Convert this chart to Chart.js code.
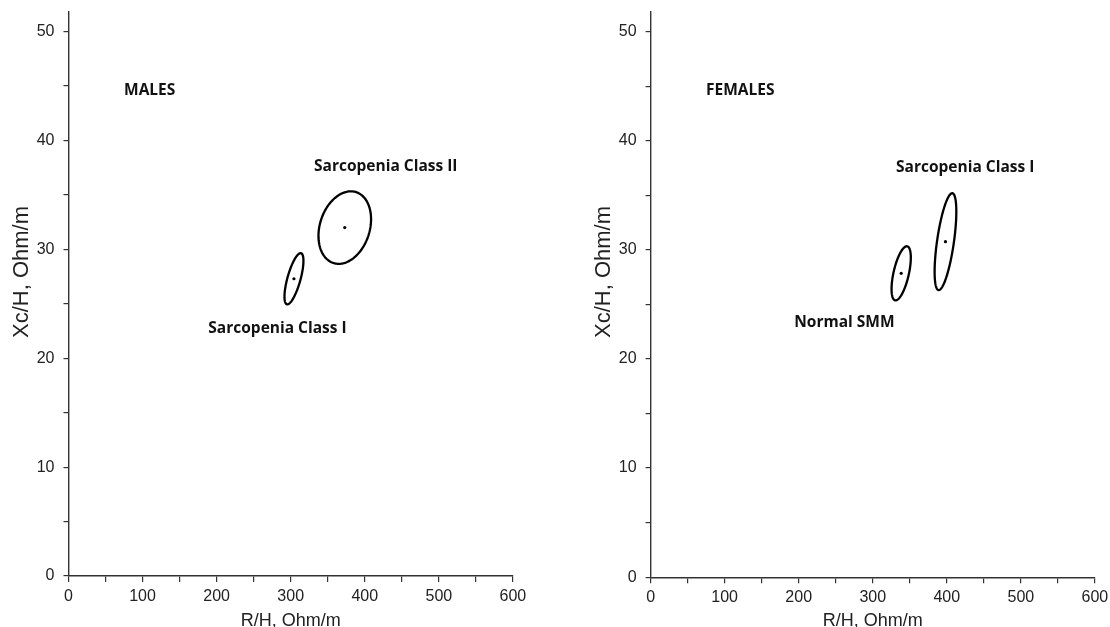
<!DOCTYPE html>
<html>
<head>
<meta charset="utf-8">
<script src="https://cdn.jsdelivr.net/npm/chart.js@4.4.1/dist/chart.umd.min.js"></script>
<style>
  html, body { margin: 0; padding: 0; background: #fff; }
  .panel { position: absolute; top: 0; width: 555px; height: 627px; }
  #left { left: 0; }
  #right { left: 555px; }
</style>
</head>
<body>
<div class="panel" id="left"><canvas id="males-chart" width="555" height="627"></canvas></div>
<div class="panel" id="right"><canvas id="females-chart" width="555" height="627"></canvas></div>
<script>
// axis ranges / ticks
const xMin = 0;
const xMax = 600;
const xStep = 50;
const xLabelEvery = 100;
const yMin = 0;
const yMax = 51.8;
const yStep = 5;
const yLabelEvery = 10;

// males: group means (dots) and 95% ellipse shape
const maleGroups = ['Sarcopenia Class I', 'Sarcopenia Class II'];
const maleMeanR = [304.4, 373.0];
const maleMeanXc = [27.3, 32.0];
const maleHalfR = [12.8, 35.5];
const maleHalfXc = [2.35, 3.33];
const maleCorr = [0.70, 0.23];

// females
const femaleGroups = ['Normal SMM', 'Sarcopenia Class I'];
const femaleMeanR = [338.4, 398.2];
const femaleMeanXc = [27.85, 30.75];
const femaleHalfR = [13.0, 14.65];
const femaleHalfXc = [2.48, 4.44];
const femaleCorr = [0.58, 0.62];

const AXIS_COLOR = '#333';
const TEXT_COLOR = '#222';

// draws the confidence ellipses through the chart scales
const ellipsePlugin = {
  id: 'ellipses',
  afterDatasetsDraw(chart, args, opts) {
    const { ctx, scales: { x, y } } = chart;
    ctx.save();
    ctx.strokeStyle = '#000';
    ctx.lineWidth = 2.3;
    opts.items.forEach((e) => {
      const phi = Math.acos(e.r);
      ctx.beginPath();
      for (let i = 0; i <= 180; i++) {
        const t = (i / 180) * Math.PI * 2;
        const px = x.getPixelForValue(e.cx + e.hx * Math.cos(t));
        const py = y.getPixelForValue(e.cy + e.hy * Math.cos(t - phi));
        if (i === 0) ctx.moveTo(px, py);
        else ctx.lineTo(px, py);
      }
      ctx.closePath();
      ctx.stroke();
    });
    ctx.restore();
  },
};

// axis titles + group labels
const textPlugin = {
  id: 'texts',
  afterDraw(chart, args, opts) {
    const { ctx, chartArea, scales: { x, y } } = chart;
    ctx.save();
    ctx.fillStyle = TEXT_COLOR;

    ctx.font = '18px "Liberation Sans", Arial, sans-serif';
    ctx.textAlign = 'center';
    ctx.textBaseline = 'alphabetic';
    ctx.fillText('R/H, Ohm/m', (chartArea.left + chartArea.right) / 2, 626);

    ctx.translate(chartArea.left - 47, 272);
    ctx.rotate(-Math.PI / 2);
    ctx.font = '22px "Liberation Sans", Arial, sans-serif';
    ctx.textBaseline = 'middle';
    ctx.fillText('Xc/H, Ohm/m', 0, 0);
    ctx.setTransform(1, 0, 0, 1, 0, 0);

    ctx.fillStyle = '#111';
    ctx.font = 'bold 15.5px "Open Sans", sans-serif';
    ctx.textAlign = 'left';
    ctx.textBaseline = 'middle';
    opts.labels.forEach((l) => {
      ctx.fillText(l.text, x.getPixelForValue(l.x), y.getPixelForValue(l.y));
    });
    ctx.restore();
  },
};

const makePanel = (canvasId, panel) => {
  const ctx = document.getElementById(canvasId).getContext('2d');
  const points = panel.meanR.map((r, i) => ({ x: r, y: panel.meanXc[i] }));
  const ellipses = panel.meanR.map((r, i) => ({
    cx: r,
    cy: panel.meanXc[i],
    hx: panel.halfR[i],
    hy: panel.halfXc[i],
    r: panel.corr[i],
  }));

  return new Chart(ctx, {
    type: 'scatter',
    data: {
      datasets: [
        {
          label: 'Means',
          data: points,
          backgroundColor: '#000',
          borderColor: '#000',
          pointRadius: 1.6,
          borderWidth: 0,
        },
      ],
    },
    options: {
      responsive: false,
      animation: false,
      devicePixelRatio: 1,
      layout: { padding: { top: 12, right: panel.padRight, left: 0, bottom: 0 } },
      plugins: {
        legend: { display: false },
        tooltip: { enabled: false },
        ellipses: { items: ellipses },
        texts: { labels: panel.labels },
      },
      scales: {
        x: {
          type: 'linear',
          min: xMin,
          max: xMax,
          grid: { drawOnChartArea: false, drawTicks: true, tickLength: 6, color: AXIS_COLOR, lineWidth: 1.2 },
          border: { display: true, color: AXIS_COLOR, width: 1.4 },
          ticks: {
            stepSize: xStep,
            padding: 5,
            maxRotation: 0,
            autoSkip: false,
            color: TEXT_COLOR,
            font: { family: '"Liberation Sans", Arial, sans-serif', size: 16 },
            callback: (v) => (v % xLabelEvery === 0 ? v : ''),
          },
          afterFit: (scale) => {
            scale.height = panel.xHeight;
            scale.paddingLeft = 0;
            scale.paddingRight = 0;
          },
        },
        y: {
          type: 'linear',
          min: yMin,
          max: yMax,
          grid: { drawOnChartArea: false, drawTicks: true, tickLength: 5, color: AXIS_COLOR, lineWidth: 1.2 },
          border: { display: true, color: AXIS_COLOR, width: 1.4 },
          ticks: {
            stepSize: yStep,
            includeBounds: false,
            padding: 9,
            autoSkip: false,
            color: TEXT_COLOR,
            font: { family: '"Liberation Sans", Arial, sans-serif', size: 16 },
            callback: (v) => (v % yLabelEvery === 0 ? v : ''),
          },
          afterFit: (scale) => {
            scale.width = panel.yWidth;
            scale.paddingTop = 0;
            scale.paddingBottom = 0;
          },
        },
      },
    },
    plugins: [ellipsePlugin, textPlugin],
  });
};

makePanel('males-chart', {
  meanR: maleMeanR,
  meanXc: maleMeanXc,
  halfR: maleHalfR,
  halfXc: maleHalfXc,
  corr: maleCorr,
  yWidth: 68.5,
  xHeight: 51,
  padRight: 42.1,
  labels: [
    { text: 'MALES', x: 75, y: 44.6 },
    { text: maleGroups[1], x: 331.5, y: 37.6 },
    { text: maleGroups[0], x: 188.8, y: 22.7 },
  ],
});

makePanel('females-chart', {
  meanR: femaleMeanR,
  meanXc: femaleMeanXc,
  halfR: femaleHalfR,
  halfXc: femaleHalfXc,
  corr: femaleCorr,
  yWidth: 95.6,
  xHeight: 49.8,
  padRight: 15.1,
  labels: [
    { text: 'FEMALES', x: 74.8, y: 44.6 },
    { text: femaleGroups[1], x: 331.4, y: 37.5 },
    { text: femaleGroups[0], x: 194, y: 23.3 },
  ],
});
</script>
</body>
</html>
